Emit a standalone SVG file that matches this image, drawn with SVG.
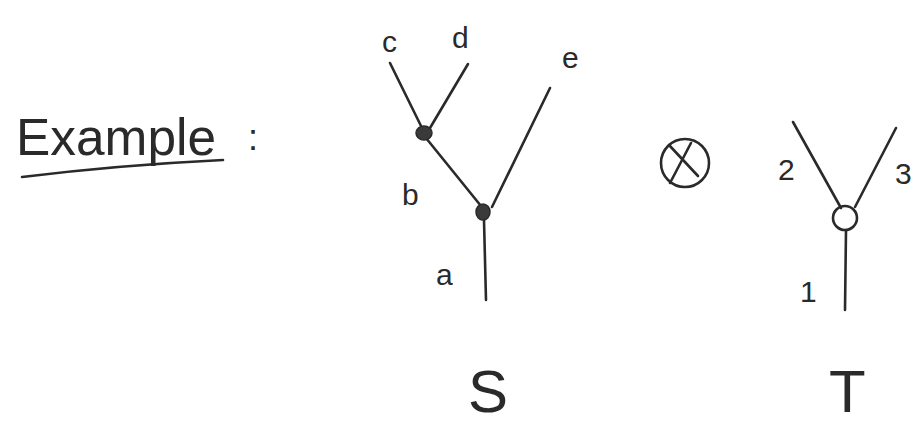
<svg xmlns="http://www.w3.org/2000/svg" width="916" height="426" viewBox="0 0 916 426">
<style>
.ln{stroke:#2a2a2a;stroke-width:2.6;fill:none;stroke-linecap:round}
.t{font-family:"Liberation Sans",Arial,sans-serif;fill:#2a2a2a}
.lbl{font-size:30px}
.big{font-size:60px}
</style>
<rect width="916" height="426" fill="#ffffff"/>
<g id="title">
<text class="t" x="16" y="155" font-size="52" textLength="200" lengthAdjust="spacingAndGlyphs">Example</text>
<text class="t" x="248" y="150" font-size="36">:</text>
<path class="ln" d="M22 177 Q120 165 223 160"/>
</g>
<g id="connectors">
<line class="ln" x1="390" y1="63" x2="423" y2="130"/>
<line class="ln" x1="468" y1="64" x2="430" y2="128"/>
<line class="ln" x1="426" y1="138" x2="481" y2="206"/>
<line class="ln" x1="550" y1="88" x2="492" y2="207"/>
<line class="ln" x1="484" y1="220" x2="486" y2="300"/>
<line class="ln" x1="793" y1="122" x2="841" y2="208"/>
<line class="ln" x1="896" y1="128" x2="855" y2="207"/>
<line class="ln" x1="846" y1="230" x2="845" y2="310"/>
</g>
<g id="node-b">
<ellipse cx="424" cy="133" rx="8" ry="7" fill="#3a3a3a" stroke="#2a2a2a" stroke-width="1.5"/>
</g>
<g id="node-a">
<ellipse cx="483" cy="212" rx="7" ry="8" fill="#3a3a3a" stroke="#2a2a2a" stroke-width="1.5"/>
</g>
<g id="node-t">
<ellipse cx="845" cy="218" rx="12" ry="12" fill="#fff" class="ln"/>
</g>
<g id="otimes">
<circle class="ln" cx="685" cy="163" r="24"/>
<line class="ln" x1="669" y1="145" x2="698" y2="176"/>
<line class="ln" x1="691" y1="143" x2="670" y2="183"/>
</g>
<g id="labels">
<text class="t lbl" x="382" y="52">c</text>
<text class="t lbl" x="452" y="48">d</text>
<text class="t lbl" x="562" y="68">e</text>
<text class="t lbl" x="402" y="205">b</text>
<text class="t lbl" x="436" y="285">a</text>
<text class="t lbl" x="778" y="180">2</text>
<text class="t lbl" x="895" y="184">3</text>
<text class="t lbl" x="800" y="302">1</text>
<text class="t big" x="468" y="412">S</text>
<text class="t big" x="829" y="412">T</text>
</g>
</svg>
